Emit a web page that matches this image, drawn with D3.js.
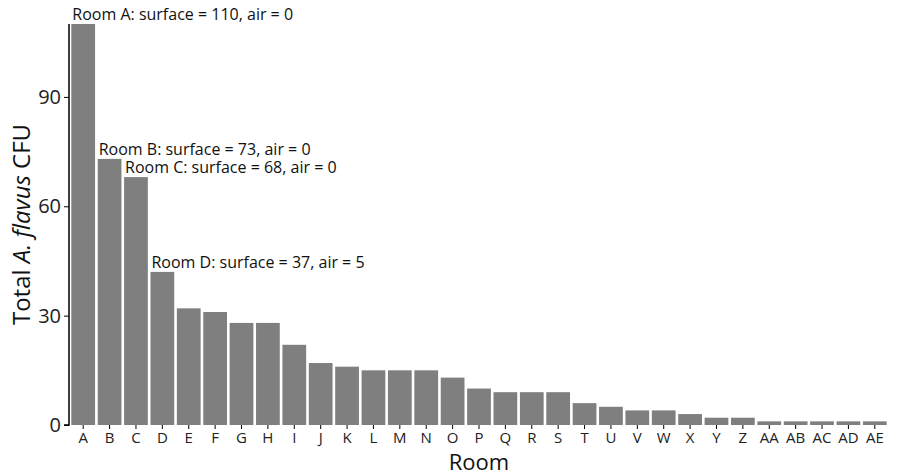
<!DOCTYPE html>
<html><head><meta charset="utf-8">
<script src="https://cdn.jsdelivr.net/npm/d3@7"></script>
<style>body{margin:0;background:#fff}text{font-family:"Open Sans",sans-serif}</style>
</head><body><svg id="chart" width="900" height="473"></svg>
<script>
const rooms = ['A','B','C','D','E','F','G','H','I','J','K','L','M','N','O','P','Q','R','S','T','U','V','W','X','Y','Z','AA','AB','AC','AD','AE']
const cfu = [110,73,68,42,32,31,28,28,22,17,16,15,15,15,13,10,9,9,9,6,5,4,4,3,2,2,1,1,1,1,1]
const labels = [
  {room: 'A', text: 'Room A: surface = 110, air = 0'},
  {room: 'B', text: 'Room B: surface = 73, air = 0'},
  {room: 'C', text: 'Room C: surface = 68, air = 0'},
  {room: 'D', text: 'Room D: surface = 37, air = 5'}
]
const yTicks = [0,30,60,90]

const svg = d3.select('#chart')
const mLeft = 70, mRight = 888, mTop = 24, mBottom = 425

const x = d3.scaleBand().domain(rooms).range([mLeft, mRight]).paddingInner(0.1).paddingOuter(0.05)
const y = d3.scaleLinear().domain([0,110]).range([mBottom, mTop])

svg.selectAll('rect.bar')
  .data(rooms)
  .join('rect')
  .attr('class','bar')
  .attr('x', d => x(d))
  .attr('width', x.bandwidth())
  .attr('y', (d,i) => y(cfu[i]))
  .attr('height', (d,i) => mBottom - y(cfu[i]))
  .attr('fill', '#7f7f7f')

const ya = svg.append('g').attr('transform', `translate(${mLeft - 1},0)`)
  .call(d3.axisLeft(y).tickValues(yTicks).tickSize(5))
ya.selectAll('text').style('font-size','20px').attr('fill','#222')
ya.select('.domain').attr('d', `M-5,${mBottom}H0V${mTop}`).attr('stroke','#000').attr('stroke-width',1.5)

const xa = svg.append('g').attr('transform', `translate(0,${mBottom})`)
  .call(d3.axisBottom(x).tickSize(4))
xa.select('.domain').remove()
xa.selectAll('text').style('font-size','15px').attr('fill','#222').attr('dy','0.75em')

svg.selectAll('text.note')
  .data(labels)
  .join('text')
  .attr('class','note')
  .attr('x', d => x(d.room) + 1)
  .attr('y', d => y(cfu[rooms.indexOf(d.room)]) - 4)
  .style('font-size','16px')
  .attr('fill','#111')
  .text(d => d.text)

svg.append('text')
  .attr('x', (mLeft + mRight) / 2).attr('y', 470)
  .attr('text-anchor','middle').style('font-size','22px').attr('fill','#111')
  .text('Room')

const yt = svg.append('text')
  .attr('transform', `translate(30,${(mTop + mBottom) / 2}) rotate(-90)`)
  .attr('text-anchor','middle').style('font-size','24px').attr('fill','#111')
yt.append('tspan').text('Total ')
yt.append('tspan').style('font-style','italic').text('A. flavus')
yt.append('tspan').text(' CFU')
</script></body></html>
